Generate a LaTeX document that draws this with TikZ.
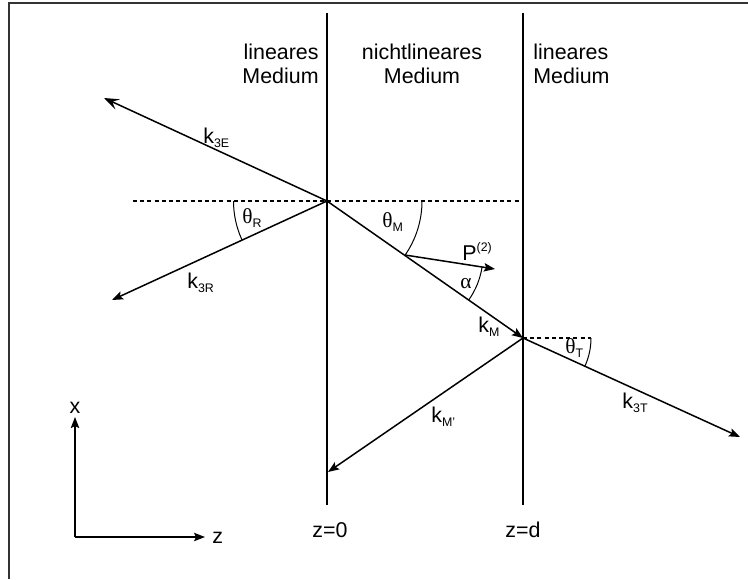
\documentclass[tikz,border=0pt]{standalone}
\usepackage{fontspec}
\setmainfont{Liberation Sans}
\newfontfamily\greekfont{Liberation Serif}
\usetikzlibrary{arrows.meta}

\newcommand\lsub[1]{\raisebox{-2.3pt}{\fontsize{6.2}{6.2}\selectfont #1}}
\newcommand\lsup[1]{\raisebox{4.2pt}{\fontsize{6.2}{6.2}\selectfont #1}}

\tikzset{
  ray/.style={line width=0.75pt, -{Stealth[length=5.5pt,width=4.2pt,inset=1pt]}},
  border/.style={line width=0.75pt},
  normal/.style={line width=0.6pt, dash pattern=on 2pt off 1.6pt},
  anglearc/.style={line width=0.5pt},
  lbl/.style={inner sep=0pt, font=\fontsize{10.7}{12}\selectfont}
}

\begin{document}
\begin{tikzpicture}[x=0.5pt,y=-0.5pt]
  \useasboundingbox (0,0) rectangle (748,579);
  \draw[line width=1pt, black!80] (9,579) -- (9,3) -- (748,3);

  % Punkte
  \coordinate (A) at (327,201);
  \coordinate (B) at (523,338);
  \coordinate (E0) at (104,98);
  \coordinate (R0) at (112,300);
  \coordinate (P0) at (405,255);
  \coordinate (P1) at (495,269);
  \coordinate (M1) at (328,472);
  \coordinate (T0) at (740,437);
  \coordinate (NA) at (133,201);
  \coordinate (NB) at (522,201);
  \coordinate (NT) at (591,338);

  % Grenzflaechen
  \coordinate (G1o) at (327,13);
  \coordinate (G1u) at (327,505);
  \coordinate (G2o) at (523,13);
  \coordinate (G2u) at (523,505);
  \draw[border] (G1o) -- (G1u);
  \draw[border] (G2o) -- (G2u);

  \node[lbl, align=right, anchor=north east] (lin1) at (319,44) {lineares\\Medium};
  \node[lbl, align=center, anchor=north] (nlin) at (422,44) {nichtlineares\\Medium};
  \node[lbl, align=left, anchor=north west] (lin2) at (533,44) {lineares\\Medium};

  % Lote
  \draw[normal] (NA) -- (NB);
  \draw[normal] (B) -- (NT);

  % Wellenvektoren
  \draw[line width=0.75pt, {Stealth[length=7.5pt,width=5.5pt,inset=3pt]}-] (E0) -- (A);
  \draw[ray] (A) -- (R0);
  \draw[ray] (A) -- (B);
  \draw[ray] (P0) -- (P1);
  \draw[ray] (B) -- (M1);
  \draw[ray] (B) -- (T0);

  % Winkel
  \draw[anglearc] (A) ++(180:93.5) arc[start angle=180, end angle=155.3, radius=93.5];
  \draw[anglearc] (A) ++(0:95) arc[start angle=0, end angle=35, radius=95];
  \draw[anglearc] (P0) ++(8.8:78) arc[start angle=8.8, end angle=35, radius=78];
  \draw[anglearc] (B) ++(0:68) arc[start angle=0, end angle=24.6, radius=68];

  \node[lbl, anchor=base west] (k3E) at (203,143) {k\lsub{3E}};
  \node[lbl, anchor=base west] (k3R) at (187,288) {k\lsub{3R}};
  \node[lbl, anchor=base west] (thR) at (242,223) {{\greekfont θ}\lsub{R}};
  \node[lbl, anchor=base west] (thM) at (382,227) {{\greekfont θ}\lsub{M}};
  \node[lbl, anchor=base west] (P2) at (462,260) {P\lsup{(2)}};
  \node[lbl, anchor=base west] (al) at (460,288) {\greekfont α};
  \node[lbl, anchor=base west] (kM) at (478,332) {k\lsub{M}};
  \node[lbl, anchor=base west] (thT) at (565,353) {{\greekfont θ}\lsub{T}};
  \node[lbl, anchor=base west] (k3T) at (622,408) {k\lsub{3T}};
  \node[lbl, anchor=base west] (kMs) at (431,422) {k\lsub{M'}};
  \node[lbl, anchor=base] (z0) at (330,537) {z=0};
  \node[lbl, anchor=base] (zd) at (523,537) {z=d};

  % Koordinatensystem
  \coordinate (O) at (75,537);
  \coordinate (Ox) at (75,417);
  \coordinate (Oz) at (205,537);
  \draw[ray] (O) -- (Ox);
  \draw[ray] (O) -- (Oz);
  \node[lbl, anchor=base] (xl) at (75,413) {x};
  \node[lbl, anchor=base west] (zl) at (212,543) {z};
\end{tikzpicture}
\end{document}
